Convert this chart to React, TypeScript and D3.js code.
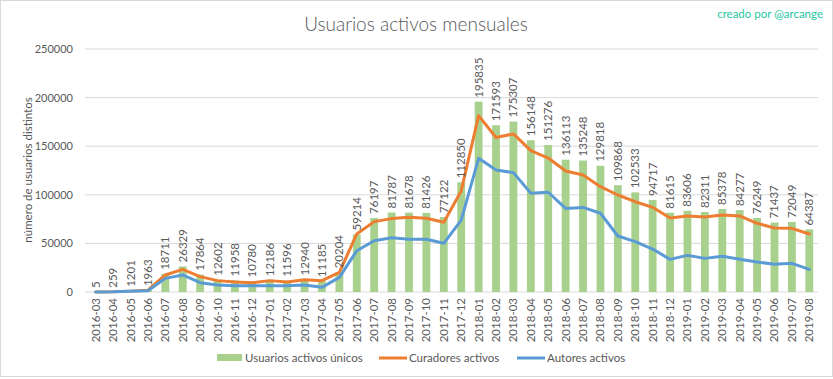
import React from "react";
import * as d3 from "d3";

const months = ["2016-03","2016-04","2016-05","2016-06","2016-07","2016-08","2016-09","2016-10","2016-11","2016-12","2017-01","2017-02","2017-03","2017-04","2017-05","2017-06","2017-07","2017-08","2017-09","2017-10","2017-11","2017-12","2018-01","2018-02","2018-03","2018-04","2018-05","2018-06","2018-07","2018-08","2018-09","2018-10","2018-11","2018-12","2019-01","2019-02","2019-03","2019-04","2019-05","2019-06","2019-07","2019-08"];
const usuarios = [5,259,1201,1963,18711,26329,17864,12602,11958,10780,12186,11596,12940,11185,20204,59214,76197,81787,81678,81426,77122,112850,195835,171593,175307,156148,151276,136113,135248,129818,109868,102533,94717,81615,83606,82311,85378,84277,76249,71437,72049,64387];
const curadores = [0,200,900,1800,17500,23300,15800,11700,10300,9600,11700,10300,12700,11700,20200,59700,72400,75500,76900,75800,71700,104000,181400,159000,162600,145400,137800,124500,120400,108400,99800,92900,87100,76100,78200,77100,79200,78200,70700,65800,65500,59700];
const autores = [0,150,700,1200,14000,17500,9600,7200,6500,6500,6500,6500,7300,4800,15000,42500,52800,55900,54200,54200,50100,74000,137500,125500,122800,101600,102600,86000,87000,81000,57600,51800,44200,33600,37700,34600,36700,33600,30900,28500,29500,23300];
const yTicks = [0,50000,100000,150000,200000,250000];

const W = 833, H = 379;
const FONT = "Lato, 'Open Sans', sans-serif";
const GRAY = "#595959";

export default function App() {
  const x = d3.scaleBand<string>().domain(months).range([87, 818]).paddingInner(0.55).paddingOuter(0.275);
  const xc = (m: string) => (x(m) as number) + x.bandwidth() / 2;
  const y = d3.scaleLinear().domain([0, 250000]).range([292, 49]);
  const lineC = d3.line<number>().x((_, i) => xc(months[i])).y(d => y(d));

  return (
    <svg width={W} height={H} style={{ position: "fixed", left: 0, top: 0, background: "#fff" }} fontFamily={FONT}>
      <rect x={0.5} y={0.5} width={W - 1} height={H - 3} fill="#fff" stroke="#d9d9d9" />
      <text x={416} y={31} textAnchor="middle" fontSize={19} fill={GRAY} fontWeight={300}>Usuarios activos mensuales</text>
      <text x={823} y={18} textAnchor="end" fontSize={11.5} fill="#1ec8a0">creado por @arcange</text>
      {yTicks.map(t => (
        <g key={t}>
          <line x1={85} x2={818} y1={y(t)} y2={y(t)} stroke="#d9d9d9" strokeWidth={1} />
          <text x={73} y={y(t) + 4} textAnchor="end" fontSize={11} fill={GRAY}>{t}</text>
        </g>
      ))}
      <text transform={`translate(32,170) rotate(-90)`} textAnchor="middle" fontSize={11.5} fill={GRAY}>número de usuarios distintos</text>
      {months.map((m, i) => (
        <rect key={m} x={x(m)} y={y(usuarios[i])} width={x.bandwidth()} height={292 - y(usuarios[i])} fill="#a9d18e" />
      ))}
      <path d={lineC(curadores) || ""} fill="none" stroke="#ed7d31" strokeWidth={3} strokeLinejoin="round" strokeLinecap="round" />
      <path d={lineC(autores) || ""} fill="none" stroke="#5b9bd5" strokeWidth={3} strokeLinejoin="round" strokeLinecap="round" />
      {months.map((m, i) => (
        <text key={m} transform={`translate(${xc(m) + 4},${y(usuarios[i]) - 4}) rotate(-90)`} fontSize={11.5} fill={GRAY}>{usuarios[i]}</text>
      ))}
      {months.map(m => (
        <text key={m} transform={`translate(${xc(m) + 4},298) rotate(-90)`} textAnchor="end" fontSize={11.5} fill={GRAY}>{m}</text>
      ))}
      <rect x={217} y={354} width={25} height={7} fill="#a9d18e" />
      <text x={245} y={362} fontSize={11.5} fill={GRAY}>Usuarios activos únicos</text>
      <line x1={379} x2={407} y1={358} y2={358} stroke="#ed7d31" strokeWidth={3} />
      <text x={409} y={362} fontSize={11.5} fill={GRAY}>Curadores activos</text>
      <line x1={517} x2={545} y1={358} y2={358} stroke="#5b9bd5" strokeWidth={3} />
      <text x={547} y={362} fontSize={11.5} fill={GRAY}>Autores activos</text>
    </svg>
  );
}
